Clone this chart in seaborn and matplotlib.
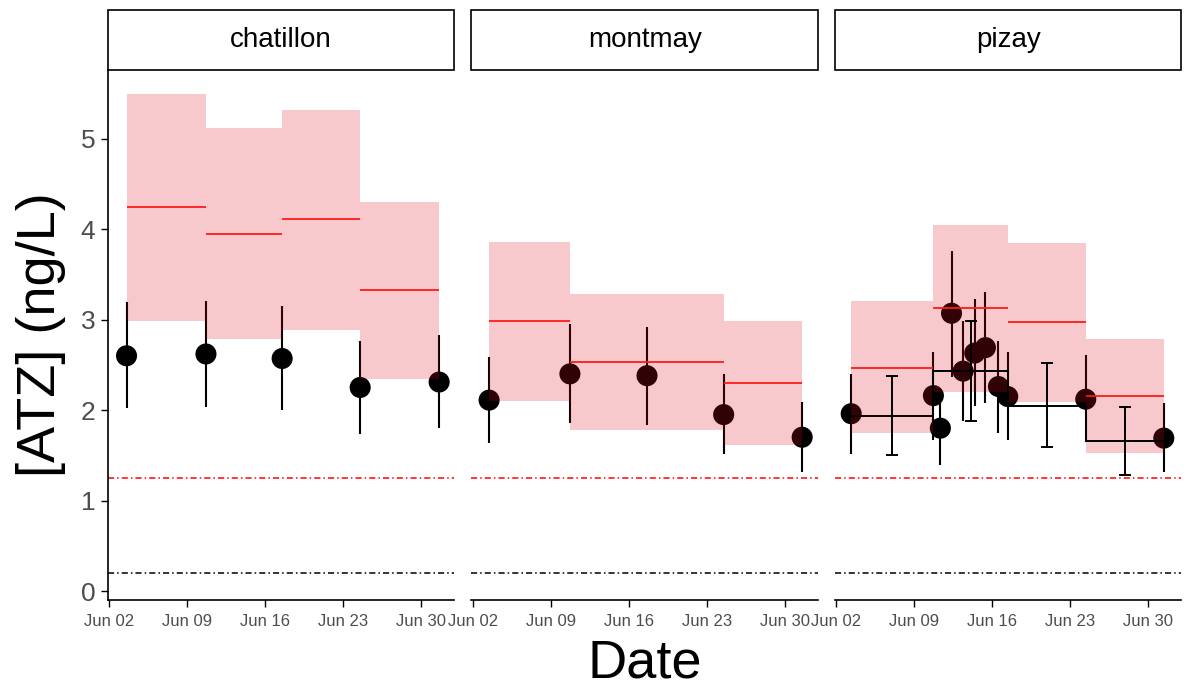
import matplotlib
matplotlib.use("Agg")
import pandas as pd
import seaborn as sns
import matplotlib.pyplot as plt
from matplotlib.patches import Rectangle

sites = ["chatillon", "montmay", "pizay"]

# grab samples (points with vertical error bars)
pt_site = ["chatillon"] * 5 + ["montmay"] * 5 + ["pizay"] * 11
pt_date = ["2015-06-03 13:00", "2015-06-10 16:00", "2015-06-17 12:00", "2015-06-24 12:00", "2015-07-01 14:00",
           "2015-06-03 11:00", "2015-06-10 17:00", "2015-06-17 15:00", "2015-06-24 12:00", "2015-07-01 13:00",
           "2015-06-03 08:00", "2015-06-10 17:00", "2015-06-11 08:00", "2015-06-12 08:00", "2015-06-13 09:00",
           "2015-06-14 10:00", "2015-06-15 09:00", "2015-06-16 13:00", "2015-06-17 09:00", "2015-06-24 09:00",
           "2015-07-01 09:00"]
pt_val = [2.60, 2.62, 2.57, 2.25, 2.31,
          2.11, 2.40, 2.38, 1.95, 1.70,
          1.96, 2.16, 1.80, 3.07, 2.43, 2.63, 2.69, 2.26, 2.15, 2.12, 1.69]
pt_lo = [2.02, 2.03, 2.00, 1.74, 1.80,
         1.64, 1.86, 1.84, 1.51, 1.32,
         1.51, 1.67, 1.39, 2.37, 1.88, 2.05, 2.08, 1.75, 1.67, 1.65, 1.32]
pt_hi = [3.19, 3.21, 3.15, 2.76, 2.83,
         2.59, 2.95, 2.92, 2.40, 2.09,
         2.40, 2.64, 2.20, 3.76, 2.98, 3.23, 3.30, 2.76, 2.64, 2.61, 2.08]

# integrated estimates (pink boxes, red mean line)
rect_site = ["chatillon"] * 4 + ["montmay"] * 3 + ["pizay"] * 4
rect_start = ["2015-06-03 13:00", "2015-06-10 16:00", "2015-06-17 12:00", "2015-06-24 12:00",
              "2015-06-03 11:00", "2015-06-10 17:00", "2015-06-24 12:00",
              "2015-06-03 08:00", "2015-06-10 17:00", "2015-06-17 09:00", "2015-06-24 09:00"]
rect_end = ["2015-06-10 16:00", "2015-06-17 12:00", "2015-06-24 12:00", "2015-07-01 14:00",
            "2015-06-10 17:00", "2015-06-24 12:00", "2015-07-01 13:00",
            "2015-06-10 17:00", "2015-06-17 09:00", "2015-06-24 09:00", "2015-07-01 09:00"]
rect_lo = [2.98, 2.78, 2.89, 2.34, 2.10, 1.78, 1.61, 1.75, 2.20, 2.09, 1.53]
rect_mid = [4.24, 3.95, 4.11, 3.33, 2.98, 2.53, 2.30, 2.47, 3.13, 2.97, 2.16]
rect_hi = [5.49, 5.12, 5.32, 4.30, 3.86, 3.28, 2.98, 3.20, 4.04, 3.85, 2.79]

# passive sampler (pizay only)
pas_start = ["2015-06-03 08:00", "2015-06-10 17:00", "2015-06-17 09:00", "2015-06-24 09:00"]
pas_end = ["2015-06-10 17:00", "2015-06-17 09:00", "2015-06-24 09:00", "2015-07-01 09:00"]
pas_val = [1.94, 2.43, 2.05, 1.66]
pas_lo = [1.50, 1.88, 1.59, 1.28]
pas_hi = [2.38, 2.98, 2.52, 2.03]

tick_dates = ["2015-06-02", "2015-06-09", "2015-06-16", "2015-06-23", "2015-06-30"]
tick_labels = ["Jun 02", "Jun 09", "Jun 16", "Jun 23", "Jun 30"]
y_ticks = [0, 1, 2, 3, 4, 5]

pts = pd.DataFrame({"site": pt_site, "date": pd.to_datetime(pt_date),
                    "val": pt_val, "lo": pt_lo, "hi": pt_hi})
rects = pd.DataFrame({"site": rect_site, "start": pd.to_datetime(rect_start), "end": pd.to_datetime(rect_end),
                      "lo": rect_lo, "mid": rect_mid, "hi": rect_hi})
pas = pd.DataFrame({"start": pd.to_datetime(pas_start), "end": pd.to_datetime(pas_end),
                    "val": pas_val, "lo": pas_lo, "hi": pas_hi})

sns.set_theme(style="white")
plt.rcParams["font.family"] = ["Liberation Sans", "DejaVu Sans"]

g = sns.FacetGrid(pts, col="site", col_order=sites, sharex=True, sharey=True, height=5, aspect=0.8)
g.map_dataframe(sns.scatterplot, x="date", y="val", color="black", s=230, edgecolor="none", zorder=2)
g.figure.set_size_inches(11.85, 6.89)
g.figure.subplots_adjust(left=0.0911, right=0.997, top=0.898, bottom=0.129, wspace=0.049)
g.set_titles("")
g.set_axis_labels("", "")

pink = "#DB0A17"
for i, (ax, site) in enumerate(zip(g.axes.flat, sites)):
    p = pts[pts.site == site]
    ax.vlines(p["date"], p["lo"], p["hi"], color="black", lw=1.5, zorder=1.5)
    r = rects[rects.site == site]
    for _, row in r.iterrows():
        ax.fill_between([row["start"], row["end"]], row["lo"], row["hi"],
                        color=pink, alpha=0.22, lw=0, zorder=3)
    ax.hlines(r["mid"], r["start"], r["end"], color="#ff1a1a", lw=1.3, zorder=4)
    if site == "pizay":
        sx = list(pas["start"]) + [pas["end"].iloc[-1]]
        sy = list(pas["val"]) + [pas["val"].iloc[-1]]
        ax.step(sx, sy, where="post", color="black", lw=1.4, zorder=5)
        mid = pas["start"] + (pas["end"] - pas["start"]) / 2
        ax.errorbar(mid, pas["val"], yerr=[pas["val"] - pas["lo"], pas["hi"] - pas["val"]],
                    fmt="none", ecolor="black", elinewidth=1.4, capsize=4.3, capthick=1.4, zorder=5)
    ax.axhline(1.25, color="red", lw=1.1, linestyle=(0, (4, 2, 1, 2)), zorder=1)
    ax.axhline(0.2, color="black", lw=1.1, linestyle=(0, (4, 2, 1, 2)), zorder=1)

    ax.set_xlim(pd.Timestamp("2015-06-01 21:00"), pd.Timestamp("2015-07-02 23:00"))
    ax.set_ylim(-0.10, 5.755)
    ax.set_xticks(pd.to_datetime(tick_dates))
    ax.set_xticklabels(tick_labels, fontsize=12, color="#4d4d4d")
    ax.tick_params(axis="x", length=5, width=1, color="black", pad=5, bottom=True)
    ax.spines["bottom"].set_color("black")
    ax.spines["bottom"].set_linewidth(1.2)
    if i == 0:
        ax.set_yticks(y_ticks)
        ax.set_yticklabels([str(v) for v in y_ticks], fontsize=19, color="#4d4d4d")
        ax.tick_params(axis="y", length=5, width=1, color="black", pad=4, left=True)
        ax.spines["left"].set_color("black")
        ax.spines["left"].set_linewidth(1.2)
    else:
        ax.spines["left"].set_visible(False)
        ax.tick_params(axis="y", left=False)
    ax.add_patch(Rectangle((0, 1.0), 1, 0.113, transform=ax.transAxes, clip_on=False,
                           facecolor="white", edgecolor="black", lw=1.2))
    ax.text(0.5, 1.0565, site, transform=ax.transAxes, ha="center", va="center",
            fontsize=20, color="black")

g.figure.text(0.544, 0.037, "Date", ha="center", va="center", fontsize=39, color="black")
g.figure.text(0.035, 0.514, "[ATZ] (ng/L)", ha="center", va="center", rotation=90,
              fontsize=39, color="black")

g.figure.savefig("out.png", dpi=100)
